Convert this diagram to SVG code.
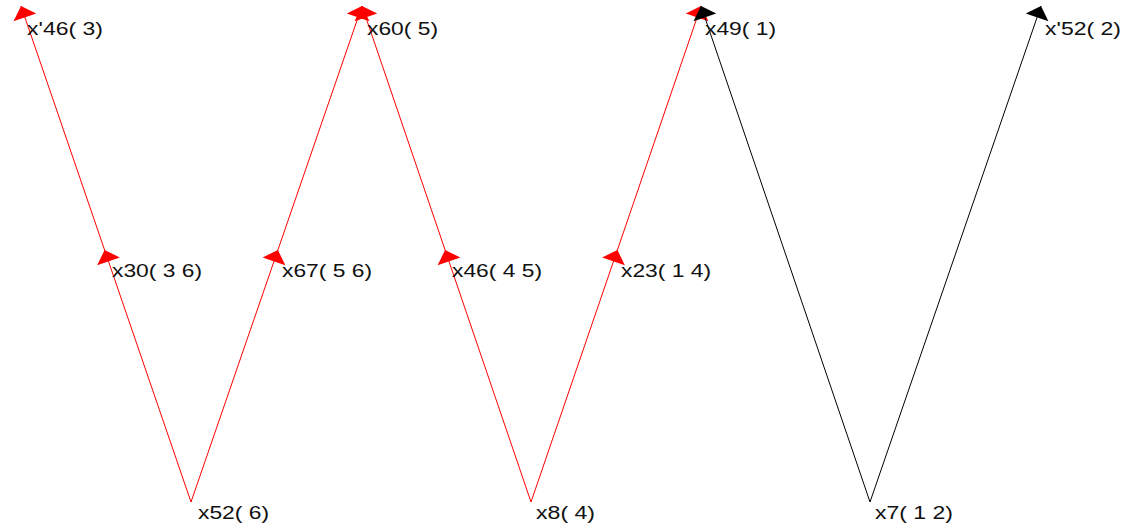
<svg xmlns="http://www.w3.org/2000/svg" width="1126" height="529" viewBox="0 0 1126 529">
<style>
  .e { stroke-width: 1; fill: none; }
  .r { stroke: #ff0000; marker-end: url(#ar); }
  .k { stroke: #000000; marker-end: url(#ak); }
  text { font-family: "Liberation Sans", Arial, sans-serif; font-size: 17.5px; fill: #111; }
</style>
<defs>
  <marker id="ar" markerUnits="userSpaceOnUse" markerWidth="26" markerHeight="26" refX="0" refY="0" orient="auto" viewBox="-13 -13 26 26" overflow="visible">
    <path d="M0,0 L-12,-12 L-12,12 Z" fill="#ff0000"/>
  </marker>
  <marker id="ak" markerUnits="userSpaceOnUse" markerWidth="26" markerHeight="26" refX="0" refY="0" orient="auto" viewBox="-13 -13 26 26" overflow="visible">
    <path d="M0,0 L-12,-12 L-12,12 Z" fill="#000000"/>
  </marker>
</defs>
<rect width="1126" height="529" fill="#ffffff"/>
<g id="edges">
  <line class="e r" x1="191" y1="502" x2="104.6" y2="250"/>
  <line class="e r" x1="104.6" y1="250" x2="21" y2="6"/>
  <line class="e r" x1="191" y1="502" x2="277.9" y2="250"/>
  <line class="e r" x1="277.9" y1="250" x2="362" y2="6"/>
  <line class="e r" x1="531" y1="502" x2="445.1" y2="250"/>
  <line class="e r" x1="445.1" y1="250" x2="362" y2="6"/>
  <line class="e r" x1="531" y1="502" x2="617.4" y2="250"/>
  <line class="e r" x1="617.4" y1="250" x2="701" y2="6"/>
  <line class="e k" x1="870" y1="502" x2="701" y2="6"/>
  <line class="e k" x1="870" y1="502" x2="1041" y2="6"/>
</g>
<g id="n_x46p"><text x="27" y="35" textLength="76" lengthAdjust="spacingAndGlyphs">x'46( 3)</text></g>
<g id="n_x60"><text x="367" y="35" textLength="71" lengthAdjust="spacingAndGlyphs">x60( 5)</text></g>
<g id="n_x49"><text x="705" y="35" textLength="71" lengthAdjust="spacingAndGlyphs">x49( 1)</text></g>
<g id="n_x52p"><text x="1045" y="35" textLength="76" lengthAdjust="spacingAndGlyphs">x'52( 2)</text></g>
<g id="n_x30"><text x="112" y="277" textLength="90" lengthAdjust="spacingAndGlyphs">x30( 3 6)</text></g>
<g id="n_x67"><text x="282" y="277" textLength="90" lengthAdjust="spacingAndGlyphs">x67( 5 6)</text></g>
<g id="n_x46"><text x="452" y="277" textLength="90" lengthAdjust="spacingAndGlyphs">x46( 4 5)</text></g>
<g id="n_x23"><text x="621" y="277" textLength="90" lengthAdjust="spacingAndGlyphs">x23( 1 4)</text></g>
<g id="n_x52"><text x="198" y="519" textLength="71" lengthAdjust="spacingAndGlyphs">x52( 6)</text></g>
<g id="n_x8"><text x="536" y="519" textLength="59" lengthAdjust="spacingAndGlyphs">x8( 4)</text></g>
<g id="n_x7"><text x="875" y="519" textLength="78" lengthAdjust="spacingAndGlyphs">x7( 1 2)</text></g>
</svg>
